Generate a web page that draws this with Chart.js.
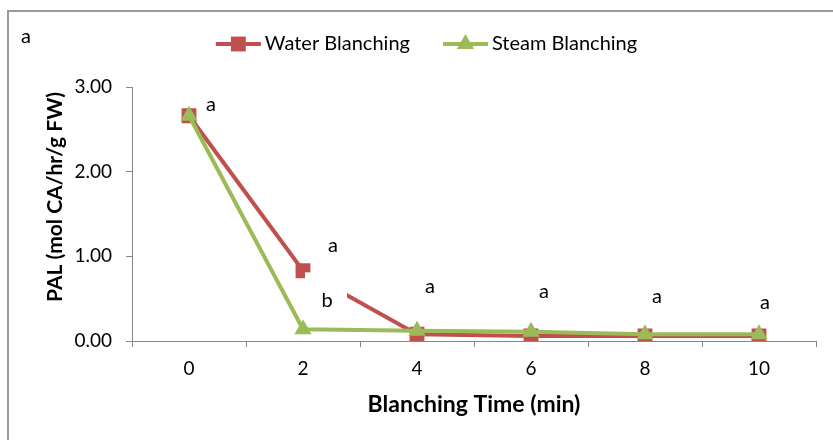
<!DOCTYPE html>
<html>
<head>
<meta charset="utf-8">
<script src="https://cdn.jsdelivr.net/npm/chart.js@4.4.1/dist/chart.umd.min.js"></script>
<style>
  html, body { margin: 0; padding: 0; background: #ffffff; }
  #wrap { position: relative; width: 833px; height: 440px; overflow: hidden; }
  #frame { position: absolute; left: 7px; top: 10px; width: 900px; height: 500px;
           border-left: 2px solid #9a9a9a; border-top: 2px solid #9a9a9a; }
  #cnv { position: absolute; left: 0; top: 0; }
</style>
</head>
<body>
<div id="wrap">
  <div id="frame"></div>
  <canvas id="cnv" width="833" height="440"></canvas>
</div>
<script>
// Data
const timeLabels = ['0', '2', '4', '6', '8', '10'];
const waterValues = [2.66, 0.83, 0.08, 0.06, 0.06, 0.06];
const steamValues = [2.66, 0.14, 0.12, 0.11, 0.08, 0.08];
const yTicks = [0, 1, 2, 3];

// significance letters and the level (in PAL units) where each one sits
const waterLetters = ['a', 'a', 'a', 'a', 'a', 'a'];
const waterLetterLevels = [2.79, 1.13, 0.64, 0.58, 0.53, 0.45];
const steamLetters = [null, 'b', null, null, null, null];
const steamLetterLevels = [null, 0.48, null, null, null, null];

const RED = '#C0504D';
const GREEN = '#9BBB59';
const AXIS = '#868686';
const FONT = 'Lato, "Open Sans", sans-serif';

function marker(ctx, shape, x, y, r) {
    ctx.beginPath();
    if (shape === 'rect') {
        const s = r * Math.SQRT1_2;
        ctx.rect(x - s, y - s, 2 * s, 2 * s);
    } else {
        ctx.moveTo(x, y - r);
        ctx.lineTo(x + r * Math.sin(2 * Math.PI / 3), y + r / 2);
        ctx.lineTo(x - r * Math.sin(2 * Math.PI / 3), y + r / 2);
        ctx.closePath();
    }
    ctx.fill();
}

// legend: a short line with the marker on it, then the label
const legendPlugin = {
    id: 'lineLegend',
    afterDraw(chart) {
        const ctx = chart.ctx;
        const y = 44, lineLen = 45, textGap = 4, itemGap = 33;
        ctx.save();
        ctx.font = '20px ' + FONT;
        ctx.textBaseline = 'middle';
        ctx.textAlign = 'left';
        const items = chart.data.datasets.map(ds => ({ ds, w: ctx.measureText(ds.label).width }));
        const total = items.reduce((s, it) => s + lineLen + textGap + it.w, 0) + itemGap * (items.length - 1);
        let x = chart.width / 2 + 10 - total / 2;
        items.forEach(({ ds, w }) => {
            ctx.strokeStyle = ds.borderColor;
            ctx.fillStyle = ds.borderColor;
            ctx.lineWidth = 4;
            ctx.beginPath(); ctx.moveTo(x, y); ctx.lineTo(x + lineLen, y); ctx.stroke();
            marker(ctx, ds.pointStyle, x + lineLen / 2, y, ds.pointRadius);
            ctx.fillStyle = '#000000';
            ctx.fillText(ds.label, x + lineLen + textGap, y);
            x += lineLen + textGap + w + itemGap;
        });
        ctx.restore();
    }
};

// letters at category x and level y; "b" sits in a white label box like the original
const letterPlugin = {
    id: 'letters',
    afterDatasetsDraw(chart) {
        const ctx = chart.ctx;
        const xs = chart.scales.x, ys = chart.scales.y;
        const dx = [22, 30, 13, 13, 12, 6];
        ctx.save();
        ctx.font = '20px ' + FONT;
        ctx.textAlign = 'center';
        ctx.textBaseline = 'middle';
        steamLetters.forEach((t, i) => {
            if (!t) return;
            const x = xs.getPixelForValue(i) + 24;
            const y = ys.getPixelForValue(steamLetterLevels[i]);
            ctx.fillStyle = '#ffffff';
            ctx.fillRect(x - 22, y - 28, 42, 40);
            ctx.fillStyle = '#000000';
            ctx.fillText(t, x, y);
        });
        ctx.fillStyle = '#000000';
        waterLetters.forEach((t, i) => {
            if (!t) return;
            ctx.fillText(t, xs.getPixelForValue(i) + dx[i], ys.getPixelForValue(waterLetterLevels[i]));
        });
        // panel letter in the top-left corner
        ctx.textAlign = 'left';
        ctx.fillText('a', 21, 37);

        // y axis title, placed as in the original (a little above the axis middle)
        ctx.font = 'bold 21px ' + FONT;
        ctx.textAlign = 'center';
        ctx.translate(55, 197);
        ctx.rotate(-Math.PI / 2);
        ctx.fillText('PAL (mol CA/hr/g FW)', 0, 0);
        ctx.restore();
    }
};

new Chart(document.getElementById('cnv'), {
    type: 'line',
    data: {
        labels: timeLabels,
        datasets: [
            {
                label: 'Water Blanching',
                data: waterValues,
                borderColor: RED,
                backgroundColor: RED,
                borderWidth: 4,
                pointStyle: 'rect',
                pointRadius: 10.5,
                pointBorderWidth: 0,
                order: 1
            },
            {
                label: 'Steam Blanching',
                data: steamValues,
                borderColor: GREEN,
                backgroundColor: GREEN,
                borderWidth: 4,
                pointStyle: 'triangle',
                pointRadius: 10,
                pointBorderWidth: 0,
                order: 0
            }
        ]
    },
    options: {
        responsive: false,
        animation: false,
        layout: { padding: { left: 37, right: 17, top: 87, bottom: 18 } },
        plugins: {
            tooltip: { enabled: false },
            legend: { display: false }
        },
        scales: {
            x: {
                type: 'category',
                offset: true,
                grid: { display: true, drawOnChartArea: false, color: AXIS, tickLength: 6, offset: true },
                border: { color: AXIS, width: 1 },
                ticks: { color: '#000000', font: { family: FONT, size: 19 }, padding: 10 },
                title: {
                    display: true, text: 'Blanching Time (min)', color: '#000000',
                    font: { family: FONT, size: 23, weight: 'bold' }, padding: { top: 4, bottom: 4 }
                },
                afterFit: (s) => { s.height = 81; }
            },
            y: {
                min: 0, max: 3,
                afterBuildTicks: (s) => { s.ticks = yTicks.map(v => ({ value: v })); },
                grid: { display: true, drawOnChartArea: false, color: AXIS, tickLength: 6 },
                border: { color: AXIS, width: 1 },
                ticks: { color: '#000000', font: { family: FONT, size: 19 }, padding: 14,
                         callback: (v) => Number(v).toFixed(2) },
                afterFit: (s) => { s.width = 95; }
            }
        }
    },
    plugins: [letterPlugin, legendPlugin]
});
</script>
</body>
</html>
